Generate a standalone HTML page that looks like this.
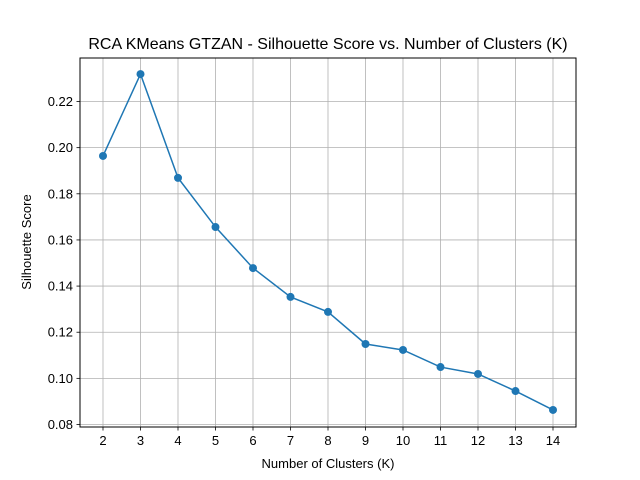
<!DOCTYPE html>
<html><head><meta charset="utf-8"><style>
body{margin:0;background:#fff;}
svg{display:block;font-family:"Liberation Sans","DejaVu Sans",sans-serif;}
</style></head><body>
<svg id="chart" width="640" height="480" xmlns="http://www.w3.org/2000/svg">
<rect width="640" height="480" fill="#fff"/>
<text x="328" y="49" text-anchor="middle" font-size="16">RCA KMeans GTZAN - Silhouette Score vs. Number of Clusters (K)</text>
<text x="328" y="468" text-anchor="middle" font-size="13">Number of Clusters (K)</text>
<text transform="translate(31,242) rotate(-90)" text-anchor="middle" font-size="13">Silhouette Score</text>
<g id="grid"></g><g id="ticks"></g><g id="series"></g>
<rect x="80" y="58" width="496" height="369" fill="none" stroke="#000" stroke-width="1"/>
</svg>
<script>
const categories=[2,3,4,5,6,7,8,9,10,11,12,13,14];
const scores=[0.1964,0.2319,0.1869,0.1656,0.1478,0.1353,0.1288,0.1149,0.1123,0.1049,0.1019,0.0945,0.0863];
const yTicks=[0.08,0.10,0.12,0.14,0.16,0.18,0.20,0.22];
const yTickLabels=["0.08","0.10","0.12","0.14","0.16","0.18","0.20","0.22"];
const NS="http://www.w3.org/2000/svg";
function xs(k){return 103+(k-2)*37.5;}
function ys(v){return 424.5-(v-0.08)/0.02*46.14;}
function mk(t,a,p){const e=document.createElementNS(NS,t);for(const k in a)e.setAttribute(k,a[k]);p.appendChild(e);return e;}
const grid=document.getElementById('grid'),ticks=document.getElementById('ticks'),ser=document.getElementById('series');
categories.forEach(k=>{const x=xs(k);
const g=mk('line',{x1:x,x2:x,y1:58,y2:427,stroke:'#b0b0b0','stroke-width':0.8},grid);


mk('line',{x1:x,x2:x,y1:427,y2:430.5,stroke:'#000','stroke-width':0.8},ticks);
const t=mk('text',{x:x,y:445,'text-anchor':'middle','font-size':13},ticks);t.textContent=k;

});
yTicks.forEach((v,i)=>{const y=ys(v);
const g=mk('line',{x1:80,x2:576,y1:y,y2:y,stroke:'#b0b0b0','stroke-width':0.8},grid);


mk('line',{x1:76.5,x2:80,y1:y,y2:y,stroke:'#000','stroke-width':0.8},ticks);
const t=mk('text',{x:73,y:y+4.5,'text-anchor':'end','font-size':13},ticks);t.textContent=yTickLabels[i];

});
const pl=mk('polyline',{points:categories.map((k,i)=>xs(k)+','+ys(scores[i])).join(' '),fill:'none',stroke:'#1f77b4','stroke-width':1.5},ser);


categories.forEach((k,i)=>{const c=mk('circle',{cx:xs(k),cy:ys(scores[i]),r:4,fill:'#1f77b4'},ser);

});
</script>
</body></html>
